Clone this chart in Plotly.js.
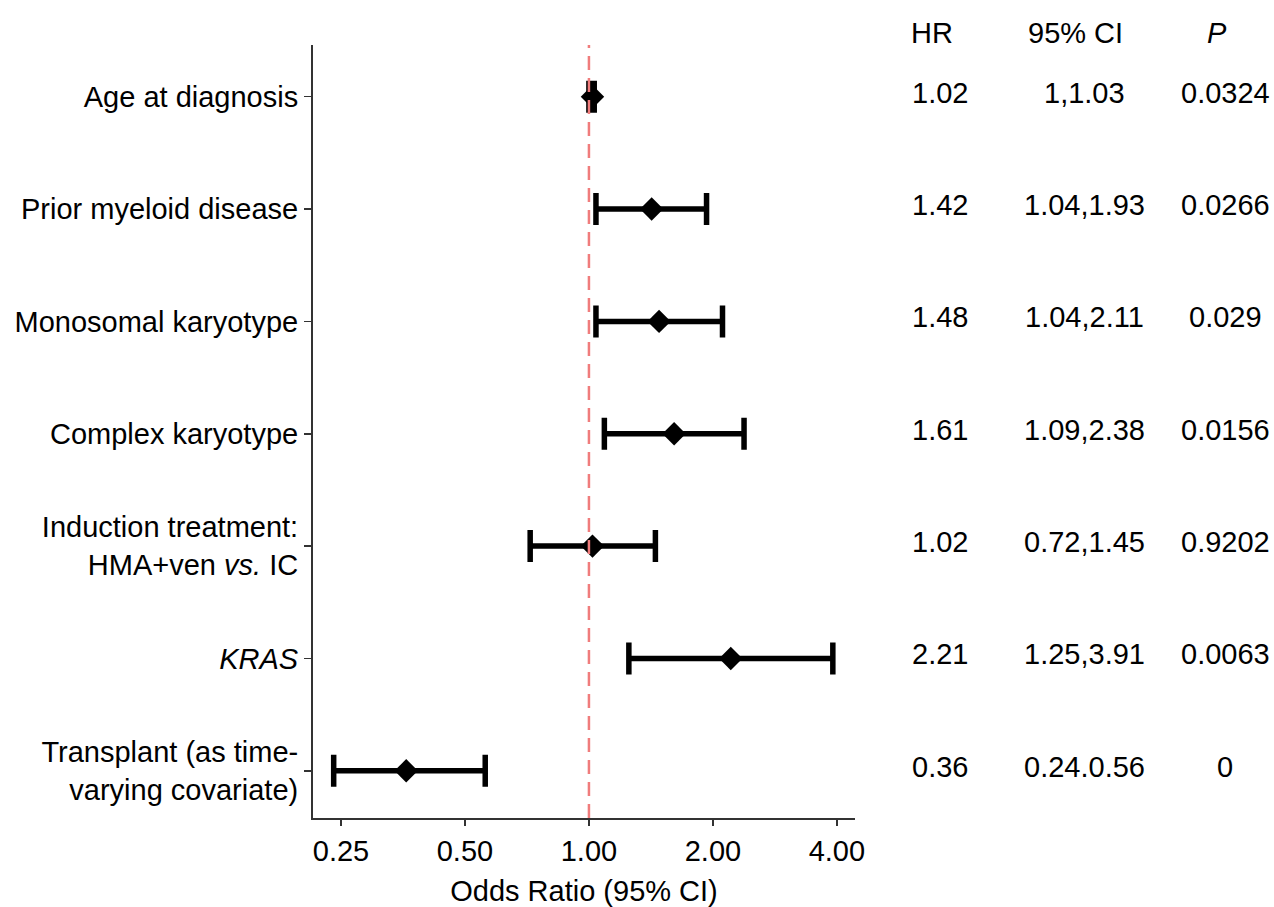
<!DOCTYPE html>
<html>
<head>
<meta charset="utf-8">
<script src="https://cdn.plot.ly/plotly-3.0.1.min.js"></script>
<style>html,body{margin:0;padding:0;background:#fff;} #chart{width:1274px;height:907px;}</style>
</head>
<body>
<div id="chart"></div>
<script>
const labels = [
  "Age at diagnosis",
  "Prior myeloid disease",
  "Monosomal karyotype",
  "Complex karyotype",
  "Induction treatment:<br>HMA+ven <i>vs.</i> IC",
  "<i>KRAS</i>",
  "Transplant (as time-<br>varying covariate)"
];
const hr = [1.02, 1.42, 1.48, 1.61, 1.02, 2.21, 0.36];
const ciLow = [1, 1.04, 1.04, 1.09, 0.72, 1.25, 0.24];
const ciHigh = [1.03, 1.93, 2.11, 2.38, 1.45, 3.91, 0.56];
const hrText = ["1.02", "1.42", "1.48", "1.61", "1.02", "2.21", "0.36"];
const ciText = ["1,1.03", "1.04,1.93", "1.04,2.11", "1.09,2.38", "0.72,1.45", "1.25,3.91", "0.24.0.56"];
const pText = ["0.0324", "0.0266", "0.029", "0.0156", "0.9202", "0.0063", "0"];
const headers = ["HR", "95% CI", "<i>P</i>"];
const xTickVals = [0.25, 0.5, 1, 2, 4];
const xTickText = ["0.25", "0.50", "1.00", "2.00", "4.00"];
const refValue = 1;

const FONT = "Liberation Sans, Arial, Helvetica, sans-serif";
const FS = 29;
const rows = labels.map((_, i) => i);

const trace = {
  type: "scatter",
  mode: "markers",
  x: hr,
  y: rows,
  marker: {symbol: "diamond", size: 18, color: "#000"},
  error_x: {
    type: "data",
    symmetric: false,
    array: hr.map((v, i) => ciHigh[i] - v),
    arrayminus: hr.map((v, i) => v - ciLow[i]),
    color: "#000",
    thickness: 5.5,
    width: 16
  },
  hoverinfo: "skip",
  showlegend: false
};

const colX = [1.157, 1.424, 1.683];
const headX = [1.142, 1.406, 1.668];
const annotations = [];
headers.forEach((h, j) => {
  annotations.push({xref: "paper", yref: "paper", x: headX[j], y: 1.0155, text: h,
    showarrow: false, xanchor: "center", yanchor: "middle", font: {family: FONT, size: FS, color: "#000"}});
});
[hrText, ciText, pText].forEach((col, j) => {
  col.forEach((t, i) => {
    annotations.push({xref: "paper", yref: "y", x: colX[j], y: i, yshift: 4, text: t,
      showarrow: false, xanchor: "center", yanchor: "middle", font: {family: FONT, size: FS, color: "#000"}});
  });
});

const layout = {
  width: 1274, height: 907,
  margin: {l: 313, r: 419, t: 45, b: 89, pad: 0},
  paper_bgcolor: "#fff", plot_bgcolor: "#fff",
  font: {family: FONT, size: FS, color: "#000"},
  xaxis: {
    type: "log",
    range: [-0.670, 0.646],
    tickvals: xTickVals,
    ticktext: xTickText,
    ticks: "outside", ticklen: 6, tickwidth: 1.5, tickcolor: "#333",
    showline: true, linecolor: "#333", linewidth: 2,
    showgrid: false, zeroline: false,
    tickfont: {family: FONT, size: FS, color: "#000"},
    title: {text: "Odds Ratio (95% CI)", font: {family: FONT, size: FS, color: "#000"}, standoff: 20},
    automargin: false
  },
  yaxis: {
    range: [6.42, -0.46],
    tickvals: rows,
    ticktext: labels,
    ticks: "outside", ticklen: 7, tickwidth: 1.5, tickcolor: "#333",
    showline: true, linecolor: "#333", linewidth: 2,
    showgrid: false, zeroline: false,
    tickfont: {family: FONT, size: FS, color: "#000"},
    automargin: false
  },
  shapes: [{
    type: "line", xref: "x", yref: "paper",
    x0: refValue, x1: refValue, y0: 0, y1: 1,
    line: {color: "#F07C7C", width: 2.5, dash: "14px,8px"},
    layer: "above"
  }],
  annotations: annotations
};

Plotly.newPlot("chart", [trace], layout, {staticPlot: true, displayModeBar: false});
</script>
</body>
</html>
